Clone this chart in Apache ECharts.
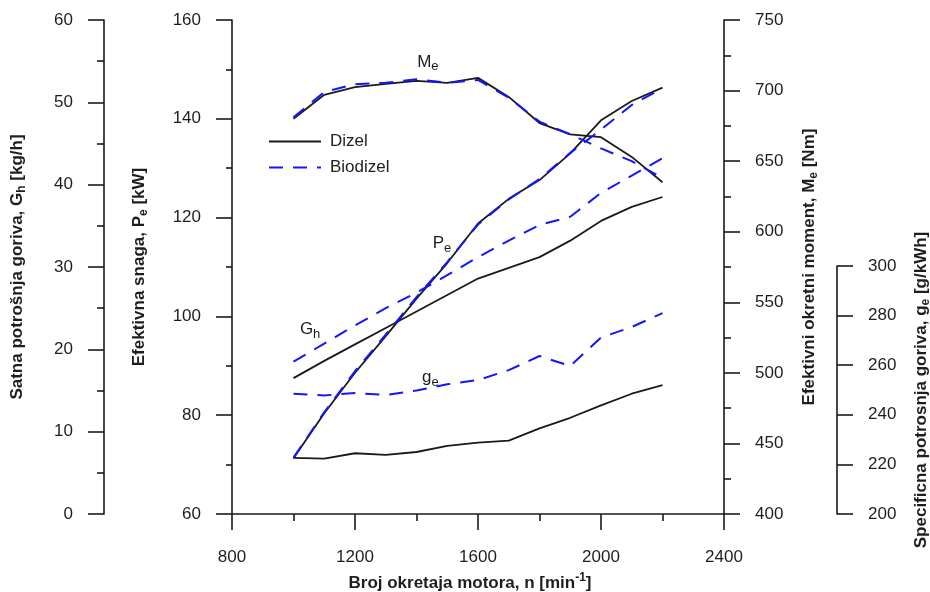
<!DOCTYPE html>
<html>
<head>
<meta charset="utf-8">
<script src="https://cdn.jsdelivr.net/npm/echarts@6/dist/echarts.min.js"></script>
<style>html,body{margin:0;padding:0;background:#fff}#c{width:930px;height:592px}</style>
</head>
<body>
<div id="c"></div>
<script>
const rpm = [1000, 1100, 1200, 1300, 1400, 1500, 1600, 1700, 1800, 1900, 2000, 2100, 2200];
const peDizel    = [71.3, 80.4, 88.6, 96.0, 103.6, 110.8, 118.8, 123.8, 127.6, 133.0, 139.7, 143.6, 146.3];
const peBiodizel = [71.4, 80.6, 88.9, 96.3, 103.9, 111.0, 118.6, 123.7, 127.8, 133.1, 137.8, 142.8, 146.2];
const meDizel    = [680, 697, 702.5, 704.7, 706.8, 705.4, 709, 695.5, 677, 669, 667, 653, 635];
const meBiodizel = [681, 699, 704.5, 705.5, 708, 705.5, 707.5, 695, 678, 669, 659, 650, 638];
const ghDizel    = [16.5, 18.6, 20.6, 22.6, 24.6, 26.6, 28.6, 29.9, 31.2, 33.2, 35.6, 37.3, 38.5];
const ghBiodizel = [18.5, 20.7, 22.9, 25.0, 26.9, 29.0, 31.2, 33.2, 35.1, 36.1, 39.0, 41.1, 43.2];
const geDizel    = [222.6, 222.3, 224.5, 223.8, 225.0, 227.5, 228.8, 229.6, 234.5, 238.8, 243.8, 248.5, 252.0];
const geBiodizel = [248.5, 247.8, 248.8, 248.0, 249.8, 252.3, 254.0, 258.0, 263.7, 259.7, 271.2, 275.4, 281.0];
const xTicks = [800, 2400, 400];

const FONT = 'Liberation Sans, Arial, Helvetica, sans-serif';
const TXT = '#1e1e1e';
const BLUE = '#1414ff';
const BLACK = '#1a1a1a';
const pairs = (ys) => rpm.map((n, i) => [n, ys[i]]);

const subRich = {
  b: {fontSize: 17, fontWeight: 'bold', fontFamily: FONT, color: TXT, lineHeight: 22},
  s: {fontSize: 12, fontWeight: 'bold', fontFamily: FONT, color: TXT, lineHeight: 12, verticalAlign: 'bottom'},
  p: {fontSize: 12, fontWeight: 'bold', fontFamily: FONT, color: TXT, lineHeight: 12, verticalAlign: 'top'}
};
const annRich = {
  b: {fontSize: 17, fontFamily: FONT, color: TXT, lineHeight: 22},
  s: {fontSize: 13, fontFamily: FONT, color: TXT, lineHeight: 12, verticalAlign: 'bottom'}
};

function yAx(o) {
  return Object.assign({
    type: 'value',
    nameLocation: 'middle',
    nameTextStyle: {rich: subRich},
    axisLine: {show: true, lineStyle: {color: BLACK, width: 1.6}},
    axisTick: {show: true, length: 16, lineStyle: {color: BLACK, width: 1.6}},
    minorTick: {show: true, splitNumber: 2, length: 7, lineStyle: {color: BLACK, width: 1.6}},
    splitLine: {show: false},
    minorSplitLine: {show: false},
    axisLabel: {color: TXT, fontSize: 17, fontFamily: FONT, margin: 31, formatter: v => String(v)}
  }, o);
}

function lineSeries(name, data, xi, yi, dashed, mark) {
  const s = {
    name: name, type: 'line', xAxisIndex: xi, yAxisIndex: yi,
    data: data, symbol: 'none', silent: true,
    lineStyle: dashed ? {color: BLUE, width: 2, type: [14, 10]} : {color: BLACK, width: 1.8},
    itemStyle: {color: dashed ? BLUE : BLACK}
  };
  if (mark) {
    s.markPoint = {
      symbol: 'circle', symbolSize: 1, silent: true,
      itemStyle: {color: 'rgba(0,0,0,0)'},
      label: {show: true, position: 'inside', formatter: mark.text, rich: annRich},
      data: [{coord: mark.coord}]
    };
  }
  return s;
}

const chart = echarts.init(document.getElementById('c'), null, {renderer: 'canvas'});
chart.setOption({
  animation: false,
  backgroundColor: '#fff',
  grid: [
    {left: 232, right: 206, top: 20, bottom: 78, containLabel: false, outerBoundsMode: 'none'},
    {left: 232, right: 206, top: 266, bottom: 78, containLabel: false, outerBoundsMode: 'none'}
  ],
  legend: {
    left: 268, top: 133, orient: 'vertical', padding: 0,
    itemWidth: 52, itemHeight: 14, itemGap: 9,
    itemStyle: {opacity: 0},
    textStyle: {fontSize: 17, fontFamily: FONT, color: TXT, padding: [0, 0, 0, 4]},
    data: ['Dizel', 'Biodizel']
  },
  xAxis: [
    {
      type: 'value', gridIndex: 0, min: xTicks[0], max: xTicks[1], interval: xTicks[2],
      name: '{b|Broj okretaja motora, n [min}{p|-1}{b|]}', nameLocation: 'middle', nameGap: 58,
      nameTextStyle: {rich: subRich, padding: [0, 16, 0, 0]},
      axisLine: {show: true, onZero: false, lineStyle: {color: BLACK, width: 1.6}},
      axisTick: {show: true, length: 16, lineStyle: {color: BLACK, width: 1.6}},
      minorTick: {show: true, splitNumber: 2, length: 7, lineStyle: {color: BLACK, width: 1.6}},
      splitLine: {show: false},
      axisLabel: {color: TXT, fontSize: 17, fontFamily: FONT, margin: 35, formatter: v => String(v)}
    },
    {type: 'value', gridIndex: 1, min: xTicks[0], max: xTicks[1], show: false}
  ],
  yAxis: [
    yAx({gridIndex: 0, position: 'left', offset: 0, min: 60, max: 160, interval: 20,
         name: '{b|Efektivna snaga, P}{s|e}{b| [kW]}', nameGap: 82,
         minorTick: {show: true, splitNumber: 2, length: 6, lineStyle: {color: BLACK, width: 1.6}}}),
    yAx({gridIndex: 0, position: 'left', offset: 128, min: 0, max: 60, interval: 10,
         name: '{b|Satna potrošnja goriva, G}{s|h}{b| [kg/h]}', nameGap: 76}),
    yAx({gridIndex: 0, position: 'right', offset: 0, min: 400, max: 750, interval: 50,
         name: '{b|Efektivni okretni moment, M}{s|e}{b| [Nm]}', nameGap: 74}),
    yAx({gridIndex: 1, position: 'right', offset: 113, min: 200, max: 300, interval: 20,
         name: '{b|Specificna potrosnja goriva, g}{s|e}{b| [g/kWh]}', nameGap: 73,
         minorTick: {show: false}})
  ],
  series: [
    lineSeries('Dizel', pairs(peDizel), 0, 0, false, {text: '{b|P}{s|e}', coord: [1483, 114.7]}),
    lineSeries('Dizel', pairs(meDizel), 0, 2, false, {text: '{b|M}{s|e}', coord: [1437, 720]}),
    lineSeries('Dizel', pairs(ghDizel), 0, 1, false, {text: '{b|G}{s|h}', coord: [1054, 22.4]}),
    lineSeries('Dizel', pairs(geDizel), 1, 3, false, {text: '{b|g}{s|e}', coord: [1445, 255]}),
    lineSeries('Biodizel', pairs(peBiodizel), 0, 0, true),
    lineSeries('Biodizel', pairs(meBiodizel), 0, 2, true),
    lineSeries('Biodizel', pairs(ghBiodizel), 0, 1, true),
    lineSeries('Biodizel', pairs(geBiodizel), 1, 3, true)
  ]
});
</script>
</body>
</html>
